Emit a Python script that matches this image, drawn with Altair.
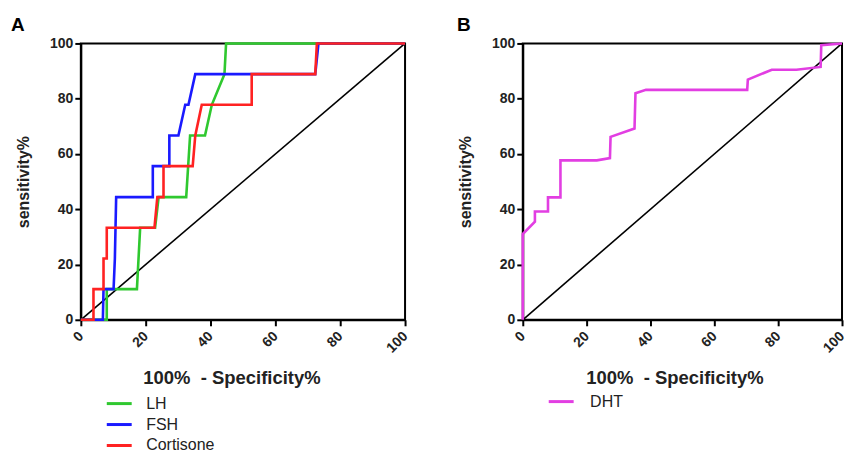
import altair as alt
import pandas as pd

# ---- data ----
lh_x = [0, 8.0, 8.0, 17.3, 18.3, 22.9, 24.0, 32.5, 33.7, 38.3, 40.4, 44.3, 44.8, 100]
lh_y = [0, 0, 11.1, 11.1, 33.3, 33.3, 44.4, 44.4, 66.7, 66.7, 77.8, 88.9, 100, 100]

fsh_x = [0, 6.8, 7.0, 10.1, 10.5, 10.9, 22.2, 22.2, 27.3, 27.3, 30.1, 32.2, 33.2, 35.3, 72.3, 73.3, 100]
fsh_y = [0, 0, 11.1, 11.1, 22.2, 44.4, 44.4, 55.6, 55.6, 66.7, 66.7, 77.8, 77.8, 88.9, 88.9, 100, 100]

cor_x = [0, 3.9, 3.9, 7.0, 7.0, 8.0, 8.0, 22.7, 23.6, 25.5, 25.5, 34.5, 35.3, 37.3, 52.7, 52.7, 72.3, 72.8, 100]
cor_y = [0, 0, 11.1, 11.1, 22.2, 22.2, 33.3, 33.3, 44.4, 44.4, 55.6, 55.6, 66.7, 77.8, 77.8, 88.9, 88.9, 100, 100]

dht_x = [0, 0, 3.8, 3.8, 7.9, 7.9, 11.8, 11.8, 23.2, 27.3, 27.5, 35.0, 35.3, 38.6, 70.3, 70.5, 78.0, 85.7, 93.3, 93.5, 100]
dht_y = [0, 31.0, 35.5, 39.2, 39.2, 44.3, 44.3, 57.7, 57.7, 58.5, 66.2, 69.2, 82.0, 83.2, 83.2, 86.9, 90.5, 90.5, 91.5, 99.4, 100]

diag_x = [0, 100]
diag_y = [0, 100]

series_a = ["LH", "FSH", "Cortisone"]
colors_a = ["#2fc82f", "#1a1aff", "#ff2222"]
series_b = ["DHT"]
colors_b = ["#e23ee2"]

x_ticks = [0, 20, 40, 60, 80, 100]
y_ticks = [0, 20, 40, 60, 80, 100]

FONT = "Liberation Sans"
X_TITLE = "100%\u00a0 - Specificity%"
Y_TITLE = "sensitivity%"


def frame(xs, ys, name):
    return pd.DataFrame({"x": xs, "y": ys, "series": name, "step": list(range(len(xs)))})


df_a = pd.concat([frame(lh_x, lh_y, "LH"), frame(fsh_x, fsh_y, "FSH"),
                  frame(cor_x, cor_y, "Cortisone")], ignore_index=True)
df_b = frame(dht_x, dht_y, "DHT")
df_diag = pd.DataFrame({"x": diag_x, "y": diag_y, "step": [0, 1]})

H = 277
LEGEND_LINE = "M-2,0H2"   # long horizontal stroke used as the legend symbol


def panel(df, names, cols, letter, W, title_dx, xtitle_x, lx, ly, loff):
    xenc = alt.X("x:Q", scale=alt.Scale(domain=[0, 100], nice=False),
                 axis=alt.Axis(values=x_ticks, title=X_TITLE, labelAngle=315,
                               labelAlign="right", labelBaseline="middle", labelPadding=8,
                               labelOffset=0, titleX=xtitle_x, titleAnchor="middle",
                               titleAlign="center", titlePadding=13, grid=False))
    yenc = alt.Y("y:Q", scale=alt.Scale(domain=[0, 100], nice=False),
                 axis=alt.Axis(values=y_ticks, title=Y_TITLE, titlePadding=18, grid=False))
    diag = alt.Chart(df_diag).mark_line(color="black", strokeWidth=1.6).encode(
        x=xenc, y=yenc, order="step:Q")
    curves = alt.Chart(df).mark_line(strokeWidth=2.6).encode(
        x="x:Q", y="y:Q",
        color=alt.Color("series:N", scale=alt.Scale(domain=names, range=cols),
                        legend=alt.Legend(title=None, orient="none", legendX=lx, legendY=ly,
                                          symbolType=LEGEND_LINE, symbolSize=156,
                                          symbolStrokeWidth=3, symbolFillColor="transparent",
                                          labelFontSize=16, labelFont=FONT, labelColor="#222",
                                          rowPadding=5, labelOffset=loff)),
        detail="series:N",
        order="step:Q")
    return alt.layer(diag, curves).properties(
        width=W, height=H,
        title=alt.TitleParams(letter, anchor="start", frame="group", dx=title_dx, fontSize=19,
                              font=FONT, fontWeight="bold", offset=1))


pa = panel(df_a, series_a, colors_a, "A", 325, -70, 151, 30.5, 353, 19)
pb = panel(df_b, series_b, colors_b, "B", 320, -66, 152, 30.5, 351, 21)

chart = alt.hconcat(pa, pb, spacing=44).resolve_scale(color="independent").configure_view(
    stroke="black", strokeWidth=2
).configure_axis(
    labelFont=FONT, labelFontSize=14, labelFontWeight="bold", labelColor="#222",
    titleFont=FONT, titleFontSize=18.5, titleFontWeight="bold", titleColor="#222",
    domainColor="black", domainWidth=2, tickColor="black", tickWidth=2, tickSize=6
).configure_axisY(titleFontSize=16, labelPadding=2).properties(
    padding={"left": 2, "top": 7, "right": 0, "bottom": 0})

chart.save("out.html", embed_options={"renderer": "svg", "actions": False})
